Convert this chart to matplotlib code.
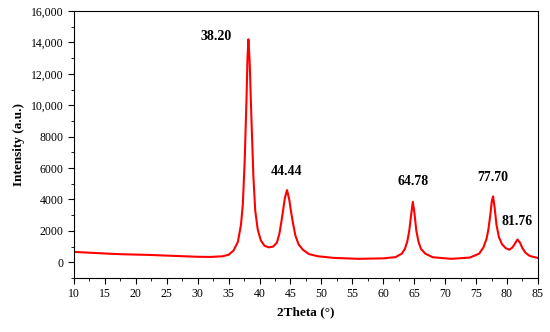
import matplotlib
matplotlib.use("Agg")
import matplotlib.pyplot as plt
from matplotlib.ticker import MultipleLocator, FuncFormatter

two_theta = [10, 12, 14, 16, 18, 20, 22, 24, 26, 28, 30, 32, 34, 35, 35.8, 36.5,
             37.0, 37.3, 37.6, 37.9, 38.05, 38.2, 38.4, 38.7, 39.0, 39.3, 39.7,
             40.2, 40.8, 41.5, 42.2, 42.8, 43.2, 43.5, 43.8, 44.1, 44.44, 44.8,
             45.1, 45.4, 45.8, 46.3, 47.0, 48.0, 49.5, 52, 56, 60, 62, 63.0, 63.5,
             63.9, 64.2, 64.5, 64.78, 65.05, 65.35, 65.7, 66.1, 66.8, 68, 71, 74,
             75.5, 76.2, 76.7, 77.0, 77.3, 77.55, 77.75, 78.0, 78.3, 78.7, 79.2,
             79.8, 80.4, 80.9, 81.3, 81.7, 82.1, 82.5, 83.0, 83.7, 84.5, 85]
intensity = [660, 620, 580, 540, 510, 490, 470, 440, 410, 380, 350, 340, 380, 480,
             750, 1300, 2400, 3700, 6500, 10500, 13000, 14200, 12800, 9000, 5500,
             3300, 2100, 1400, 1050, 950, 1000, 1250, 1800, 2500, 3300, 4100, 4600,
             4000, 3200, 2500, 1700, 1150, 800, 520, 380, 280, 220, 250, 330, 550,
             850, 1350, 2000, 3000, 3850, 3100, 2000, 1300, 850, 550, 320, 220, 300,
             550, 950, 1500, 2100, 3000, 3900, 4200, 3500, 2400, 1600, 1150, 900,
             800, 950, 1200, 1450, 1250, 900, 600, 400, 320, 280]

peak_labels = ['38.20', '44.44', '64.78', '77.70', '81.76']
label_x = [33.0, 44.4, 64.8, 77.7, 81.6]
label_y = [14350, 5780, 5140, 5370, 2600]

plt.rcParams['font.family'] = ['Liberation Serif', 'DejaVu Serif']

fig = plt.figure(figsize=(5.5, 3.32), dpi=100)
ax = fig.add_axes([0.1345, 0.1627, 0.8435, 0.804])

ax.plot(two_theta, intensity, color='red', lw=1.5)

for lab, lx, ly in zip(peak_labels, label_x, label_y):
    ax.text(lx, ly, lab, ha='center', va='center', fontsize=10, fontweight='bold')

ax.set_xlim(10, 85)
ax.set_ylim(-1000, 16000)
ax.xaxis.set_major_locator(MultipleLocator(5))
ax.xaxis.set_minor_locator(MultipleLocator(2.5))
ax.yaxis.set_major_locator(MultipleLocator(2000))
ax.yaxis.set_minor_locator(MultipleLocator(1000))
ax.yaxis.set_major_formatter(FuncFormatter(
    lambda v, p: f'{int(v):,}' if v >= 10000 else f'{int(v)}'))
ax.tick_params(which='both', direction='out', labelsize=8.5)
ax.tick_params(which='major', length=4)
ax.tick_params(which='minor', length=2.5)

ax.set_xlabel('2Theta (°)', fontsize=9.5, fontweight='bold')
ax.set_ylabel('Intensity (a.u.)', fontsize=9.5, fontweight='bold')

fig.savefig('out.png', dpi=100)
